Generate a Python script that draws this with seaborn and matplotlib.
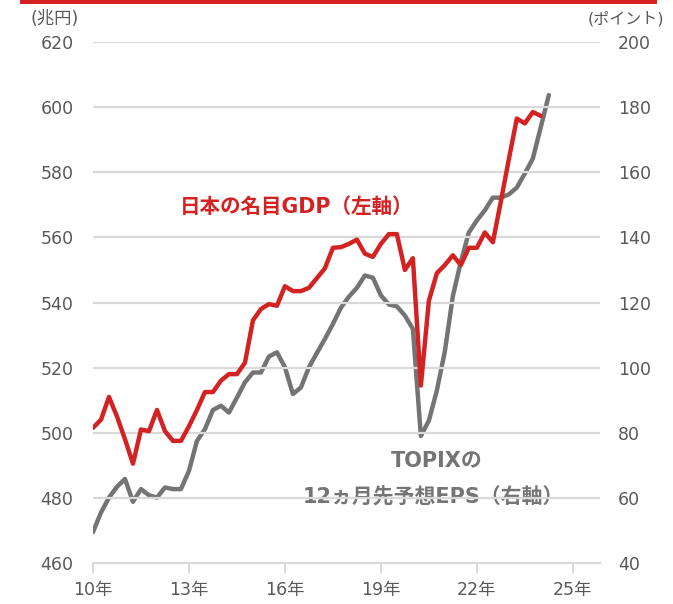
import matplotlib
matplotlib.use("Agg")
import matplotlib.pyplot as plt
import numpy as np
import pandas as pd
import seaborn as sns

# quarterly values, starting 2010 Q1
gdp = [501.5, 504, 511, 505, 498, 490.5, 501, 500.5, 507, 500.5,
       497.5, 497.5, 502, 507, 512.5, 512.5, 516, 518, 518, 521.5,
       534.5, 538, 539.5, 539, 545, 543.5, 543.5, 544.5, 547.5, 550.5,
       556.8, 557, 558, 559.3, 555, 554, 558, 561, 561, 550,
       553.6, 514.5, 540.5, 549, 551.5, 554.5, 551.5, 556.8, 556.8, 561.5,
       558.5, 571, 584, 596.5, 595, 598.5, 597.3]
eps = [49.5, 55.5, 60.1, 63.4, 65.8, 58.8, 62.7, 60.8, 60.1, 63.2,
       62.7, 62.7, 68.3, 77.5, 81.1, 87, 88.3, 86.2, 90.8, 95.5,
       98.5, 98.5, 103.4, 104.7, 100.1, 91.9, 93.9, 100.1, 104.5, 108.8,
       113.4, 118.4, 121.8, 124.5, 128.3, 127.6, 122.2, 119.4, 118.8, 116,
       111.9, 79, 83.7, 93, 105, 122, 132.5, 141.5, 145.2, 148.3,
       152.2, 152.2, 153.2, 155.3, 159.6, 164.2, 173.9, 183.7]
year_ticks = [2010, 2013, 2016, 2019, 2022, 2025]
year_labels = ["10年", "13年", "16年", "19年", "22年", "25年"]
left_ticks = [460, 480, 500, 520, 540, 560, 580, 600, 620]
right_ticks = [40, 60, 80, 100, 120, 140, 160, 180, 200]

df_gdp = pd.DataFrame({"t": 2010 + np.arange(len(gdp)) / 4, "v": gdp})
df_eps = pd.DataFrame({"t": 2010 + np.arange(len(eps)) / 4, "v": eps})

RED = "#d42222"
GRAY = "#747474"
TXT = "#595959"
GRID = "#d9d9d9"

sns.set_style("white")
plt.rcParams["font.family"] = ["DejaVu Sans", "Noto Sans CJK JP"]

fig = plt.figure(figsize=(6.73, 6.04), dpi=100)
ax = fig.add_axes([93 / 673, 1 - 563 / 604, 507 / 673, 521 / 604])
ax2 = ax.twinx()

# grid
for y in left_ticks[1:]:
    ax.axhline(y, color=GRID, lw=1.6, zorder=0)

sns.lineplot(data=df_eps, x="t", y="v", ax=ax2, color=GRAY, lw=3.2)
sns.lineplot(data=df_gdp, x="t", y="v", ax=ax, color=RED, lw=3.2)
ax.set_zorder(ax2.get_zorder() + 1)
ax.patch.set_visible(False)

ax.set_xlim(2010, 2025.85)
ax.set_ylim(460, 620)
ax2.set_ylim(40, 200)
ax.set_xticks(year_ticks)
ax.set_xticklabels(year_labels)
ax.set_yticks(left_ticks)
ax2.set_yticks(right_ticks)
ax.set_xlabel("")
ax.set_ylabel("")
ax2.set_xlabel("")
ax2.set_ylabel("")

for a in (ax, ax2):
    for s in ("left", "right", "top", "bottom"):
        a.spines[s].set_visible(False)
ax.spines["bottom"].set_visible(True)
ax.spines["bottom"].set_color(GRID)
ax.spines["bottom"].set_linewidth(1.6)

ax.tick_params(axis="x", colors=GRID, length=7, width=1.4, labelcolor=TXT,
               labelsize=12.5, pad=6, direction="out", bottom=True)
ax.tick_params(axis="y", length=0, labelcolor=TXT, labelsize=12.5, pad=14)
ax2.tick_params(axis="y", length=0, labelcolor=TXT, labelsize=12.5, pad=13)

fig.text(30 / 673, 1 - 19 / 604, "(兆円)", ha="left", va="center",
         color=TXT, fontsize=12.5)
fig.text(664 / 673, 1 - 19 / 604, "(ポイント)", ha="right", va="center",
         color=TXT, fontsize=11.5)

ax.text(2012.72, 569.2, "日本の名目GDP（左軸）", color=RED, fontsize=14.8,
        fontweight="bold", ha="left", va="center")
ax2.text(2020.75, 71.5, "TOPIXの", color=GRAY, fontsize=15,
         fontweight="bold", ha="center", va="center")
ax2.text(2020.65, 60.2, "12ヵ月先予想EPS（右軸）", color=GRAY, fontsize=15,
         fontweight="bold", ha="center", va="center")

# red band on top
fig.add_artist(plt.Rectangle((20 / 673, 1 - 4 / 604), 637 / 673, 4 / 604,
                             transform=fig.transFigure, color=RED, lw=0))

fig.savefig("out.png", dpi=100)
